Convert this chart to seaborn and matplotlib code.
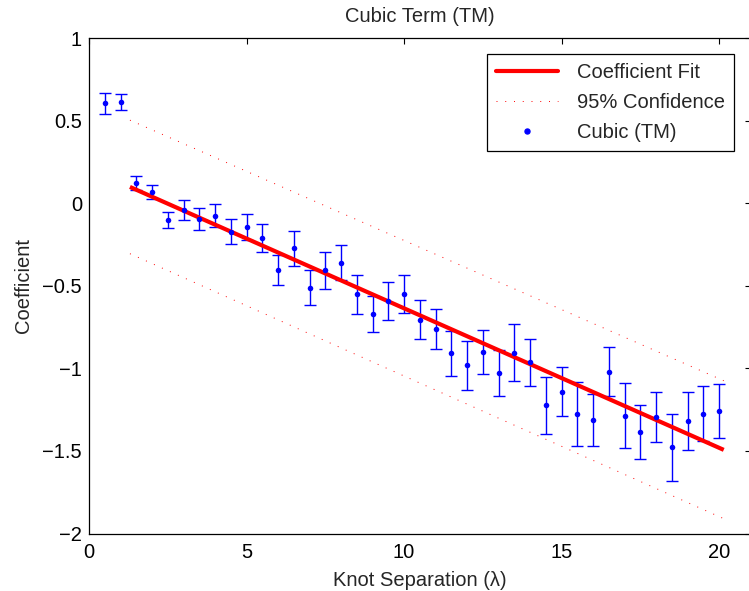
import matplotlib
matplotlib.use("Agg")
import matplotlib.pyplot as plt
import seaborn as sns
import pandas as pd
from matplotlib.lines import Line2D

# Knot separation (in wavelengths) and the fitted cubic-term coefficients
knot_sep = [0.5, 1.0, 1.5, 2.0, 2.5, 3.0, 3.5, 4.0, 4.5, 5.0,
            5.5, 6.0, 6.5, 7.0, 7.5, 8.0, 8.5, 9.0, 9.5, 10.0,
            10.5, 11.0, 11.5, 12.0, 12.5, 13.0, 13.5, 14.0, 14.5, 15.0,
            15.5, 16.0, 16.5, 17.0, 17.5, 18.0, 18.5, 19.0, 19.5, 20.0]
coef = [0.606, 0.615, 0.124, 0.069, -0.101, -0.040, -0.095, -0.074, -0.171, -0.143,
        -0.208, -0.404, -0.272, -0.511, -0.406, -0.359, -0.552, -0.673, -0.590, -0.547,
        -0.705, -0.762, -0.908, -0.982, -0.902, -1.029, -0.905, -0.964, -1.223, -1.140,
        -1.276, -1.314, -1.019, -1.286, -1.385, -1.294, -1.478, -1.320, -1.274, -1.257]
coef_err = [0.062, 0.047, 0.040, 0.040, 0.050, 0.062, 0.064, 0.072, 0.078, 0.081,
            0.085, 0.093, 0.105, 0.105, 0.114, 0.106, 0.117, 0.109, 0.114, 0.116,
            0.119, 0.121, 0.136, 0.146, 0.132, 0.139, 0.173, 0.141, 0.174, 0.148,
            0.193, 0.158, 0.148, 0.195, 0.164, 0.151, 0.202, 0.177, 0.166, 0.163]

# Linear fit and its 95% confidence band, given at the ends of the fitted range
fit_x = [1.3, 20.15]
fit_y = [0.0995, -1.4933]
conf_upper = [0.504, -1.0745]
conf_lower = [-0.305, -1.910]

x_ticks = [0, 5, 10, 15, 20]
y_ticks = [1, 0.5, 0, -0.5, -1, -1.5, -2]

FS = 14.5

sns.set_theme(style="white")
plt.rcParams["font.family"] = ["Liberation Sans", "DejaVu Sans"]
plt.rcParams["font.size"] = FS

points = pd.DataFrame({"sep": knot_sep, "coef": coef, "err": coef_err})
fit = pd.DataFrame({"sep": fit_x, "fit": fit_y, "upper": conf_upper, "lower": conf_lower})

W, H = 749, 591
fig = plt.figure(figsize=(W / 100, H / 100), dpi=100)
ax = fig.add_axes([89 / W, 1 - 533.5 / H, 661.5 / W, 495.2 / H])

# error bars
ax.errorbar(points["sep"], points["coef"], yerr=points["err"], fmt="none",
            ecolor="#0000ff", elinewidth=1.0, capsize=4.3, capthick=1.0, zorder=2)
sns.scatterplot(data=points, x="sep", y="coef", ax=ax, color="#0000ff", s=16,
                linewidth=0, zorder=4, legend=False)

# fit and confidence band
sns.lineplot(data=fit, x="sep", y="fit", ax=ax, color="red", linewidth=3.0,
             solid_capstyle="butt", zorder=3, legend=False)
for col in ["upper", "lower"]:
    sns.lineplot(data=fit, x="sep", y=col, ax=ax, color="red", linewidth=0.7,
                 linestyle=(0, (1, 8)), zorder=3, legend=False)

ax.set_xlim(0, 21)
ax.set_ylim(-2, 1)
ax.set_xticks(x_ticks)
ax.set_yticks(y_ticks)
ax.set_xticklabels([str(t) for t in x_ticks])
ax.set_yticklabels(["1", "0.5", "0", "\u22120.5", "\u22121", "\u22121.5", "\u22122"])

for sp in ax.spines.values():
    sp.set_visible(True)
    sp.set_color("black")
    sp.set_linewidth(0.9)
ax.tick_params(direction="in", length=4, width=0.8, top=True, right=True,
               colors="black", labelsize=FS)
ax.tick_params(axis="y", pad=5)
ax.tick_params(axis="x", pad=6.5)

ax.set_title("Cubic Term (TM)", fontsize=FS, pad=12)
ax.set_xlabel("Knot Separation (\u03bb)", fontsize=FS, labelpad=7)
ax.set_ylabel("Coefficient", fontsize=FS, labelpad=6.5)

handles = [
    Line2D([], [], color="red", linewidth=3.0),
    Line2D([], [], color="red", linewidth=0.7, linestyle=(0, (1, 8))),
    Line2D([], [], color="#0000ff", marker="o", markersize=3.6, linestyle="none"),
]
labels = ["Coefficient Fit", "95% Confidence", "Cubic (TM)"]
leg = ax.legend(handles, labels, loc="upper right",
                bbox_to_anchor=(733.7 / W, 1 - 53.6 / H), bbox_transform=fig.transFigure,
                borderaxespad=0, frameon=True, fancybox=False, framealpha=1,
                edgecolor="black", handlelength=3.1, handletextpad=0.92,
                labelspacing=0.55, borderpad=0.45, fontsize=FS)
leg.get_frame().set_linewidth(0.9)

fig.savefig("out.png", dpi=100)
